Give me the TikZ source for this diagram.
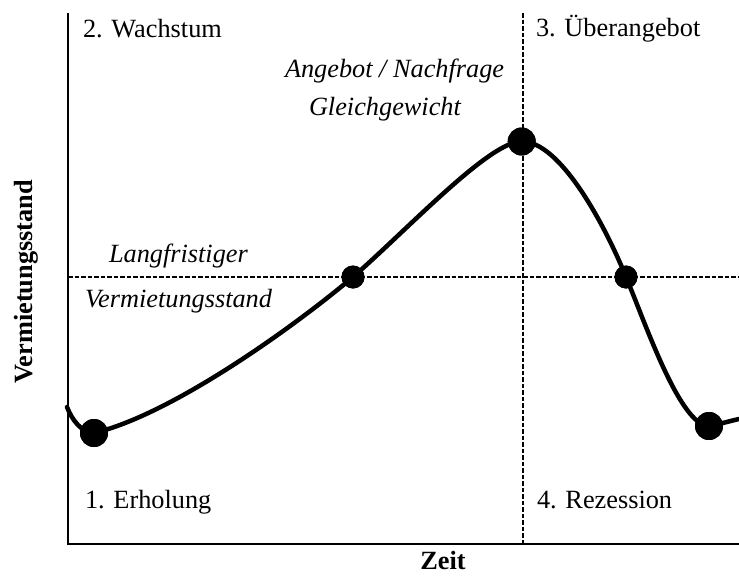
\documentclass[tikz,border=0pt]{standalone}
\usepackage{fontspec}
\setmainfont{Liberation Serif}
\begin{document}
\begin{tikzpicture}[x=1pt,y=-1pt,
  lbl/.style={inner sep=0pt,outer sep=0pt,anchor=base west,font=\fontsize{26.3}{30}\selectfont},
  ilbl/.style={lbl,font=\fontsize{26.3}{30}\selectfont\itshape},
  blbl/.style={inner sep=0pt,outer sep=0pt,anchor=base,font=\fontsize{26.3}{30}\selectfont\bfseries},
  axisline/.style={line width=2.7pt},
  guide/.style={line width=1.6pt,dash pattern=on 4.5pt off 2pt},
  curveline/.style={line width=4.5pt,line cap=round},
  bigdot/.style={circle,fill=black,inner sep=0pt,minimum size=28pt},
  smalldot/.style={circle,fill=black,inner sep=0pt,minimum size=23pt}]
\useasboundingbox (0,0) rectangle (739,576);
% guide lines
\coordinate (vtop) at (522.7,13);
\coordinate (vbot) at (522.7,544);
\coordinate (hleft) at (68,277);
\coordinate (hright) at (739,277);
\draw[guide] (vtop) -- (vbot);
\draw[guide] (hleft) -- (hright);
% axes
\coordinate (ytop) at (68,13);
\coordinate (orig) at (68,544);
\coordinate (xend) at (739,544);
\draw[axisline] (ytop) -- (orig) -- (xend);
% dots
\node[bigdot] (A) at (94,433) {};
\node[smalldot] (B) at (353,277) {};
\node[bigdot] (P) at (521.7,141.5) {};
\node[smalldot] (C) at (626,277) {};
\node[bigdot] (D) at (709,426) {};
\coordinate (S) at (67,407);
\coordinate (E) at (739,419);
% curve
\draw[curveline] (S) .. controls (72,420) and (82,433) .. (A.center)
  .. controls (170,415) and (290,330) .. (B.center)
  .. controls (410,227) and (490,141) .. (P.center)
  .. controls (560,141) and (605,225) .. (C.center)
  .. controls (645,322) and (680,426) .. (D.center)
  .. controls (720,424) and (730,421) .. (E);
\node[bigdot] at (A) {};
\node[smalldot] at (B) {};
\node[bigdot] at (P) {};
\node[smalldot] at (C) {};
\node[bigdot] at (D) {};
% labels
\node[lbl] (wachstum) at (83,37) {2. Wachstum};
\node[lbl] (ueber) at (536,36) {3. Überangebot};
\node[ilbl] (angebot) at (285,77) {Angebot / Nachfrage};
\node[ilbl] (gleich) at (309,115) {Gleichgewicht};
\node[ilbl] (langf) at (109,262) {Langfristiger};
\node[ilbl] (vstand) at (85,307) {Vermietungsstand};
\node[lbl] (erholung) at (85,508) {1. Erholung};
\node[lbl] (rezession) at (537,508) {4. Rezession};
\node[blbl] (zeit) at (443,569) {Zeit};
\node[blbl,rotate=90] (ylab) at (32,282) {Vermietungsstand};
\end{tikzpicture}
\end{document}
